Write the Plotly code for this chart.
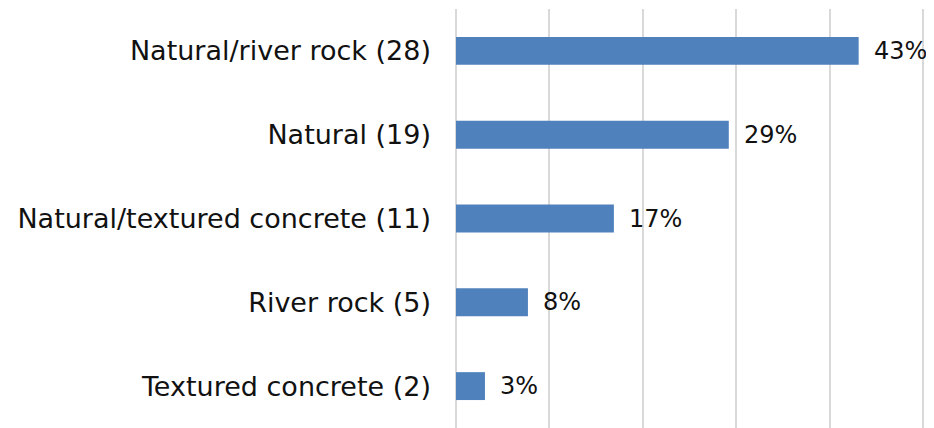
import plotly.graph_objects as go

categories = ["Natural/river rock (28)", "Natural (19)", "Natural/textured concrete (11)",
              "River rock (5)", "Textured concrete (2)"]
values = [43.1, 29.2, 16.9, 7.7, 3.1]
labels = ["43%", "29%", "17%", "8%", "3%"]

FONT = "DejaVu Sans"
fig = go.Figure()
fig.add_trace(go.Bar(
    y=categories, x=values, orientation="h",
    marker=dict(color="#4F81BD", line=dict(width=0)),
    width=0.333, hoverinfo="skip",
))
for c, v, t in zip(categories, values, labels):
    fig.add_annotation(x=v, y=c, text=t, showarrow=False, xanchor="left",
                       xshift=13, font=dict(family=FONT, size=24, color="#111111"))

fig.update_layout(
    width=926, height=420,
    margin=dict(l=448, r=9, t=1, b=0),
    paper_bgcolor="white", plot_bgcolor="white",
    showlegend=False,
    font=dict(family=FONT, size=27, color="#111111"),
    xaxis=dict(range=[0, 50.2], tickvals=[0, 10, 20, 30, 40, 50], showgrid=True,
               gridcolor="#d9d9d9", gridwidth=1.5,
               showticklabels=False, zeroline=True, zerolinecolor="#d9d9d9", zerolinewidth=1.5,
               showline=False, fixedrange=True),
    yaxis=dict(autorange="reversed", showgrid=False, zeroline=False, showline=False,
               ticklabelstandoff=24, tickfont=dict(family=FONT, size=27, color="#111111")),
)
fig.write_html("out.html")
